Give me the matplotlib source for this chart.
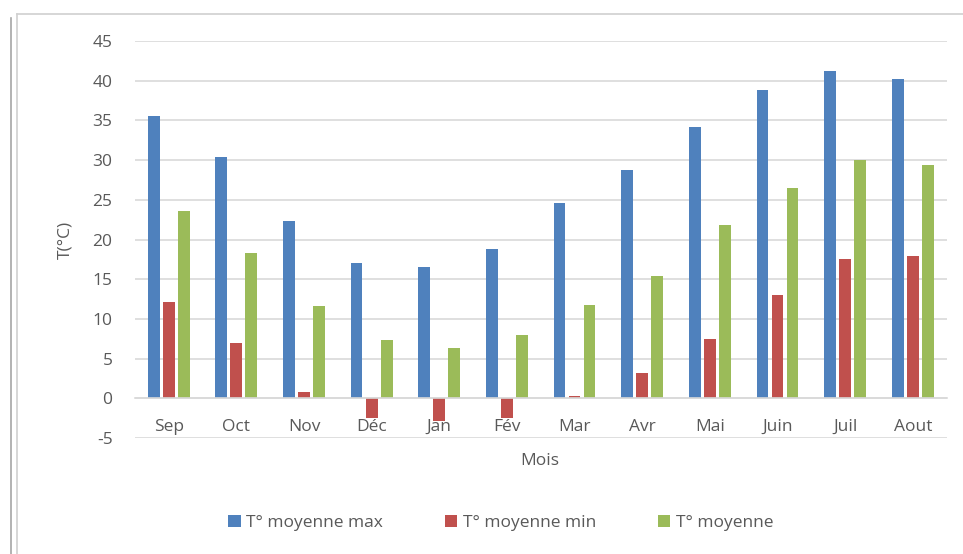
import matplotlib.pyplot as plt
from matplotlib.lines import Line2D
import numpy as np

plt.rcParams['font.family'] = ['Open Sans', 'DejaVu Sans']
plt.rcParams['axes.unicode_minus'] = False

mois = ['Sep', 'Oct', 'Nov', 'Déc', 'Jan', 'Fév', 'Mar', 'Avr', 'Mai', 'Juin', 'Juil', 'Aout']
t_max = [35.6, 30.4, 22.4, 17.1, 16.6, 18.8, 24.6, 28.7, 34.2, 38.8, 41.2, 40.2]
t_min = [12.1, 7.0, 0.8, -2.4, -2.8, -2.4, 0.3, 3.2, 7.5, 13.0, 17.6, 17.9]
t_moy = [23.6, 18.3, 11.6, 7.3, 6.3, 8.0, 11.8, 15.4, 21.9, 26.5, 30.0, 29.4]

series = [
    ('T° moyenne max', t_max, '#4F81BD'),
    ('T° moyenne min', t_min, '#C0504D'),
    ('T° moyenne', t_moy, '#9BBB59'),
]

gray = '#595959'
grid = '#D9D9D9'

fig = plt.figure(figsize=(9.63, 5.54), dpi=100)
ax = fig.add_axes([0.140, 0.209, 0.843, 0.717])

x = np.arange(len(mois))
w = 0.175
step = 0.222
for i, (name, vals, col) in enumerate(series):
    ax.bar(x + (i - 1) * step, vals, w, color=col, label=name, zorder=2)

ax.set_xlim(-0.5, len(mois) - 0.5)
ax.set_ylim(-5, 45)
ax.set_yticks(range(-5, 46, 5))
ax.yaxis.grid(True, color=grid, linewidth=1.2, zorder=0)
ax.set_axisbelow(True)

for s in ['top', 'right', 'left']:
    ax.spines[s].set_visible(False)
ax.spines['bottom'].set_position(('data', 0))
ax.spines['bottom'].set_color(grid)
ax.spines['bottom'].set_linewidth(1.2)

ax.set_xticks(x)
ax.set_xticklabels(mois)
ax.tick_params(axis='x', length=0, pad=15, labelsize=12.5, labelcolor=gray)
ax.tick_params(axis='y', length=0, pad=16, labelsize=12.5, labelcolor=gray)
for lab in ax.get_xticklabels():
    lab.set_zorder(5)

ax.set_ylabel('T(°C)', fontsize=12.5, color=gray, labelpad=14)
fig.text(0.561, 1 - 461 / 554, 'Mois', ha='center', va='center', fontsize=12.5, color=gray)

fig.legend(loc='center', bbox_to_anchor=(0.52, 1 - 523 / 554), ncol=3, frameon=False,
           handlelength=0.7, handleheight=0.7, handletextpad=0.3, columnspacing=3.6,
           fontsize=12.5, labelcolor=gray)

# cadre du graphique
fig.add_artist(Line2D([17 / 963, 1], [1 - 14 / 554, 1 - 14 / 554], color='#D0D0D0', lw=1.2))
fig.add_artist(Line2D([17 / 963, 17 / 963], [0, 1 - 14 / 554], color='#D0D0D0', lw=1.2))
fig.add_artist(Line2D([11 / 963, 11 / 963], [0, 1 - 18 / 554], color='#A6A6A6', lw=1.2))

fig.savefig('out.png', dpi=100)
